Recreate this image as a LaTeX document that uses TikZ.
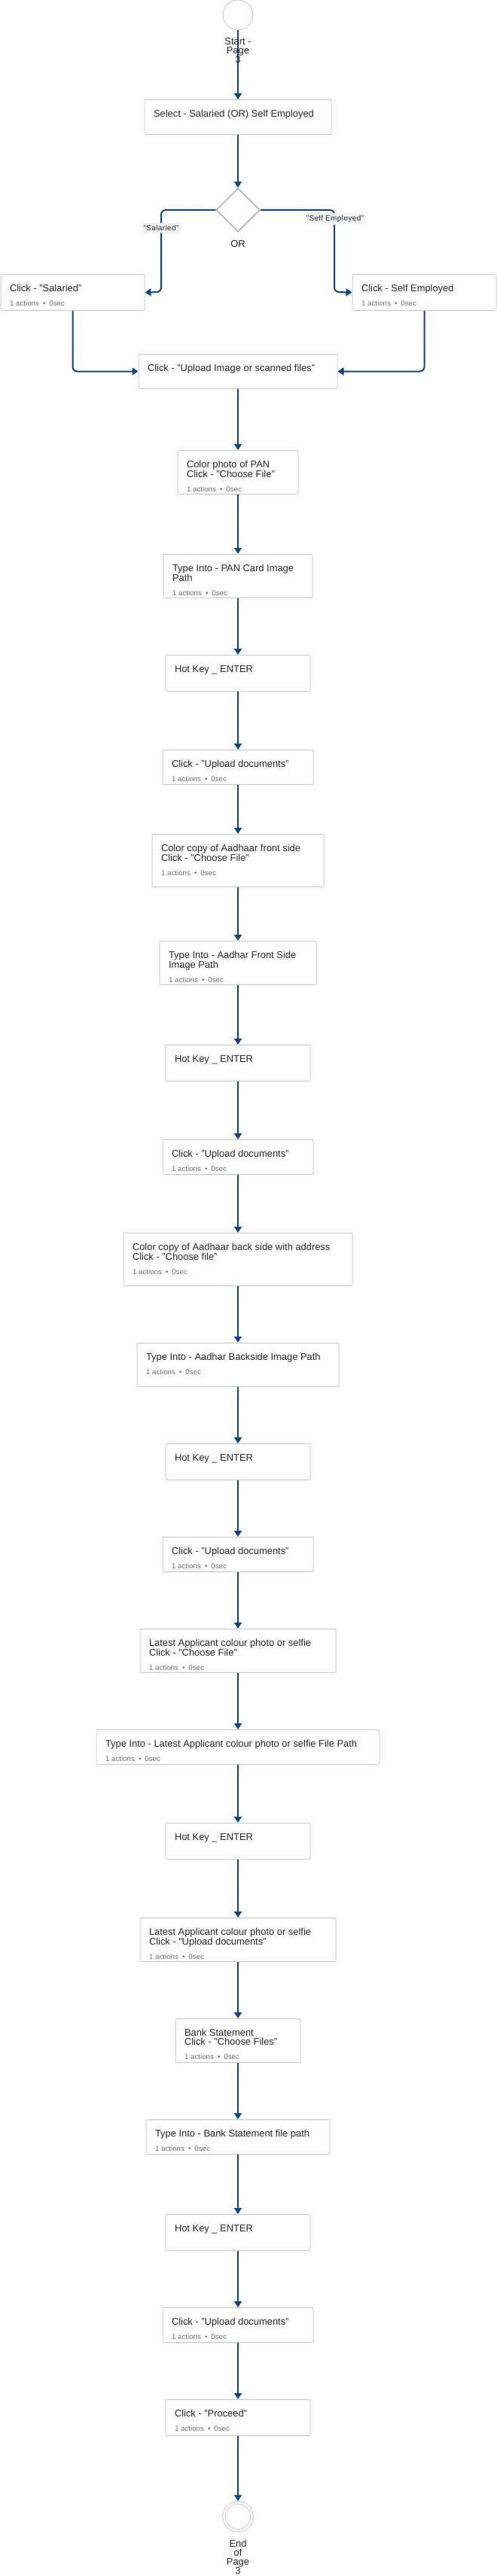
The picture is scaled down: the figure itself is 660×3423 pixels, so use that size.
\documentclass[tikz,border=0pt]{standalone}
\usepackage{fontspec}
\setmainfont{Liberation Sans}
\usetikzlibrary{shapes.geometric,arrows.meta}

\definecolor{flowblue}{HTML}{0B4593}
\definecolor{cardline}{HTML}{C8CCD1}
\definecolor{gateline}{HTML}{A9ADB2}
\definecolor{subgray}{HTML}{6B6F75}
\definecolor{titlegray}{HTML}{262626}
\definecolor{tagfill}{HTML}{EEF3F6}

\newcommand{\actinfo}{{\fontsize{9.75}{12}\selectfont\color{subgray}1 actions\hspace{5pt}•\hspace{5pt}0sec}}
\newcommand{\cardtext}[3]{\parbox[c][#1][t]{#2}{\raggedright\rule{0pt}{23pt}#3}}

\begin{document}
\begin{tikzpicture}[x=1pt, y=-1pt, >={Triangle[length=8pt,width=10pt]},
		card/.style={draw=cardline, fill=white, rounded corners=2pt, line width=1pt, inner xsep=12pt, inner ysep=0pt, anchor=north, font=\fontsize{12.9}{12}\selectfont, text=titlegray},
		flow/.style={->, draw=flowblue, line width=2pt},
		tag/.style={fill=tagfill, rounded corners=3pt, inner sep=3pt, text=titlegray, font=\fontsize{10}{12}\selectfont\addfontfeature{LetterSpace=4}},
		caption/.style={font=\fontsize{12.9}{12}\selectfont, text=titlegray, align=center}]
			\path[use as bounding box, fill=white] (0,0) rectangle (660,3423);
			% start and choice
			\node[circle, draw=cardline, line width=1pt, minimum size=40pt, inner sep=0pt] (start) at (316,20) {};
			\node[card] (select) at (316,132) {\cardtext{46pt}{224pt}{Select - Salaried (OR) Self Employed}};
			\node[diamond, draw=gateline, line width=1.5pt, minimum width=58pt, minimum height=58pt, inner sep=0pt] (orgate) at (316,279) {};
			\node[caption] (orlbl) at (316,324) {OR};
			\node[card] (salaried) at (96.5,364) {\cardtext{48pt}{167pt}{Click - "Salaried"\\[6.5pt]\actinfo}};
			\node[card] (selfemp) at (563.5,364) {\cardtext{48pt}{167pt}{Click - Self Employed\\[6.5pt]\actinfo}};
			\coordinate (salbend) at (214,388);
			\coordinate (selfbend) at (444,388);
			\node[card] (uploadimg) at (316,470) {\cardtext{46pt}{240pt}{Click - "Upload Image or scanned files"}};
			% PAN
			\node[card] (panphoto) at (316,598) {\cardtext{58pt}{136pt}{Color photo of PAN\\Click - "Choose File"\\[6.5pt]\actinfo}};
			\node[card] (typepan) at (316,736) {\cardtext{58pt}{174pt}{Type Into - PAN Card Image\\Path\\[6.5pt]\actinfo}};
			\node[card] (hotkeya) at (316,870) {\cardtext{48pt}{168pt}{Hot Key \_ ENTER}};
			\node[card] (uploada) at (316,996) {\cardtext{46pt}{176pt}{Click - "Upload documents"\\[6.5pt]\actinfo}};
			% Aadhaar front
			\node[card] (frontcopy) at (316,1108) {\cardtext{70pt}{204pt}{Color copy of Aadhaar front side\\Click - "Choose File"\\[6.5pt]\actinfo}};
			\node[card] (typefront) at (316,1250) {\cardtext{58pt}{184pt}{Type Into - Aadhar Front Side\\Image Path\\[6.5pt]\actinfo}};
			\node[card] (hotkeyb) at (316,1388) {\cardtext{48pt}{168pt}{Hot Key \_ ENTER}};
			\node[card] (uploadb) at (316,1514) {\cardtext{46pt}{176pt}{Click - "Upload documents"\\[6.5pt]\actinfo}};
			% Aadhaar back
			\node[card] (backcopy) at (316,1638) {\cardtext{70pt}{280pt}{Color copy of Aadhaar back side with address\\Click - "Choose file"\\[6.5pt]\actinfo}};
			\node[card] (typeback) at (316,1784) {\cardtext{58pt}{244pt}{Type Into - Aadhar Backside Image Path\\[6.5pt]\actinfo}};
			\node[card] (hotkeyc) at (316,1918) {\cardtext{48pt}{168pt}{Hot Key \_ ENTER}};
			\node[card] (uploadc) at (316,2042) {\cardtext{46pt}{176pt}{Click - "Upload documents"\\[6.5pt]\actinfo}};
			% selfie
			\node[card] (selfiefile) at (316,2164) {\cardtext{58pt}{236pt}{Latest Applicant colour photo or selfie\\Click - "Choose File"\\[6.5pt]\actinfo}};
			\node[card] (typeselfie) at (316,2298) {\cardtext{46pt}{352pt}{Type Into - Latest Applicant colour photo or selfie File Path\\[6.5pt]\actinfo}};
			\node[card] (hotkeyd) at (316,2422) {\cardtext{48pt}{168pt}{Hot Key \_ ENTER}};
			\node[card] (selfieup) at (316,2548) {\cardtext{58pt}{236pt}{Latest Applicant colour photo or selfie\\Click - "Upload documents"\\[6.5pt]\actinfo}};
			% bank statement
			\node[card] (bankfile) at (316,2682) {\cardtext{58pt}{142pt}{Bank Statement\\Click - "Choose Files"\\[6.5pt]\actinfo}};
			\node[card] (typebank) at (316,2816) {\cardtext{46pt}{220pt}{Type Into - Bank Statement file path\\[6.5pt]\actinfo}};
			\node[card] (hotkeye) at (316,2942) {\cardtext{48pt}{168pt}{Hot Key \_ ENTER}};
			\node[card] (uploadd) at (316,3066) {\cardtext{46pt}{176pt}{Click - "Upload documents"\\[6.5pt]\actinfo}};
			\node[card] (proceed) at (316,3188) {\cardtext{48pt}{168pt}{Click - "Proceed"\\[6.5pt]\actinfo}};
			\node[circle, draw=cardline, double=white, double distance=2.5pt, line width=1pt, minimum size=37pt, inner sep=0pt, outer sep=2.25pt] (endcirc) at (316,3344) {};
			% connectors
			\draw[flow] (start.south) -- (select.north);
			\draw[flow] (select.south) -- (orgate.north);
			\draw[flow, rounded corners=6pt] (orgate.west) -| (salbend) -- (salaried.east);
			\draw[flow, rounded corners=6pt] (orgate.east) -| (selfbend) -- (selfemp.west);
			\draw[flow, rounded corners=6pt] (salaried.south) |- (uploadimg.west);
			\draw[flow, rounded corners=6pt] (selfemp.south) |- (uploadimg.east);
			\draw[flow] (uploadimg.south) -- (panphoto.north);
			\draw[flow] (panphoto.south) -- (typepan.north);
			\draw[flow] (typepan.south) -- (hotkeya.north);
			\draw[flow] (hotkeya.south) -- (uploada.north);
			\draw[flow] (uploada.south) -- (frontcopy.north);
			\draw[flow] (frontcopy.south) -- (typefront.north);
			\draw[flow] (typefront.south) -- (hotkeyb.north);
			\draw[flow] (hotkeyb.south) -- (uploadb.north);
			\draw[flow] (uploadb.south) -- (backcopy.north);
			\draw[flow] (backcopy.south) -- (typeback.north);
			\draw[flow] (typeback.south) -- (hotkeyc.north);
			\draw[flow] (hotkeyc.south) -- (uploadc.north);
			\draw[flow] (uploadc.south) -- (selfiefile.north);
			\draw[flow] (selfiefile.south) -- (typeselfie.north);
			\draw[flow] (typeselfie.south) -- (hotkeyd.north);
			\draw[flow] (hotkeyd.south) -- (selfieup.north);
			\draw[flow] (selfieup.south) -- (bankfile.north);
			\draw[flow] (bankfile.south) -- (typebank.north);
			\draw[flow] (typebank.south) -- (hotkeye.north);
			\draw[flow] (hotkeye.south) -- (uploadd.north);
			\draw[flow] (uploadd.south) -- (proceed.north);
			\draw[flow] (proceed.south) -- (endcirc.north);
			% labels
			\node[caption] (startlbl) at (316,67) {Start -\\Page\\3};
			\node[caption] (endlbl) at (316,3398) {End\\of\\Page\\3};
			\node[tag] (saltag) at (214,303) {"Salaried"};
			\node[tag] (selftag) at (445,291) {"Self Employed"};
		\end{tikzpicture}
\end{document}
